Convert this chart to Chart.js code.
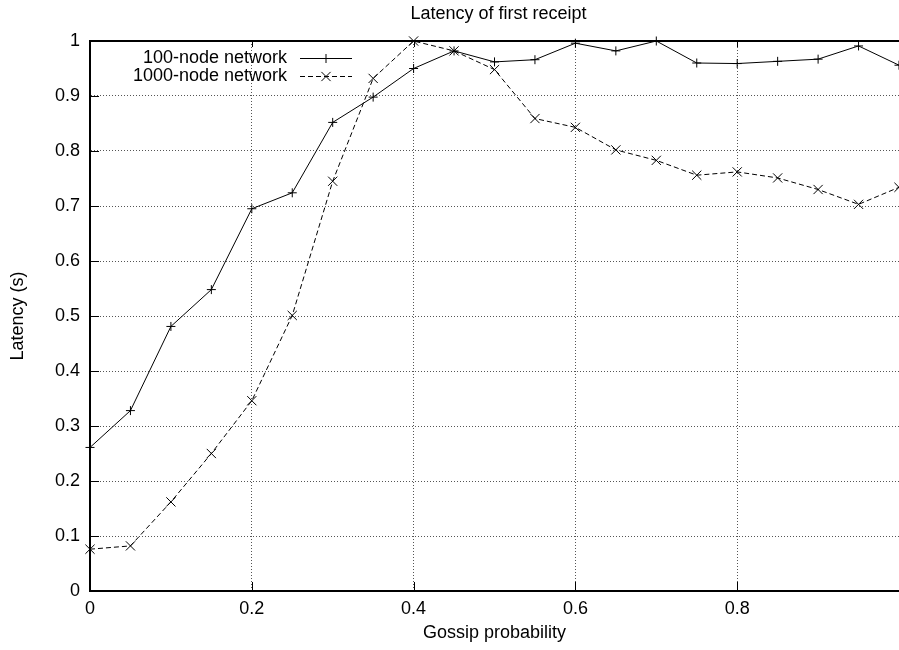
<!DOCTYPE html>
<html lang="en">
<head>
<meta charset="UTF-8">
<title>Latency of first receipt</title>
<script src="https://cdn.jsdelivr.net/npm/chart.js@4.4.1/dist/chart.umd.min.js"></script>
<style>
  html, body { margin: 0; padding: 0; background: #fff; }
  #grafico { display: block; }
</style>
</head>
<body>
<canvas id="grafico" width="899" height="650"></canvas>
<script>
// datos
const chartTitle = "Latency of first receipt";
const xTitle = "Gossip probability";
const yTitle = "Latency (s)";
const seriesNames = ["100-node network", "1000-node network"];

const gossipProb = [0, 0.05, 0.1, 0.15, 0.2, 0.25, 0.3, 0.35, 0.4, 0.45, 0.5,
                    0.55, 0.6, 0.65, 0.7, 0.75, 0.8, 0.85, 0.9, 0.95, 1.0];
const lat100 = [0.261, 0.328, 0.481, 0.548, 0.695, 0.724, 0.852, 0.898, 0.950, 0.982, 0.962,
                0.966, 0.996, 0.982, 1.000, 0.960, 0.959, 0.963, 0.967, 0.991, 0.956];
const lat1000 = [0.076, 0.082, 0.162, 0.250, 0.346, 0.501, 0.745, 0.932, 1.000, 0.982, 0.948,
                 0.859, 0.843, 0.802, 0.783, 0.756, 0.762, 0.751, 0.730, 0.703, 0.734];

const xTicks = [0, 0.2, 0.4, 0.6, 0.8];
const yTicks = [0, 0.1, 0.2, 0.3, 0.4, 0.5, 0.6, 0.7, 0.8, 0.9, 1];

const font = { family: "'Liberation Sans', Arial, sans-serif", size: 18 };
const fontCss = "18px 'Liberation Sans', Arial, sans-serif";

const toPoints = ys => gossipProb.map((x, i) => ({ x: x, y: ys[i] }));

function drawMarker(ctx, style, cx, cy) {
  ctx.beginPath();
  if (style === 'cross') {
    ctx.moveTo(cx - 4.5, cy); ctx.lineTo(cx + 4.5, cy);
    ctx.moveTo(cx, cy - 4.5); ctx.lineTo(cx, cy + 4.5);
  } else {
    ctx.moveTo(cx - 4.6, cy - 4.6); ctx.lineTo(cx + 4.6, cy + 4.6);
    ctx.moveTo(cx - 4.6, cy + 4.6); ctx.lineTo(cx + 4.6, cy - 4.6);
  }
  ctx.stroke();
}

// marco, marcas interiores, titulo y leyenda al estilo gnuplot
const decor = {
  id: 'decor',
  beforeDatasetsDraw(chart) {
    const { ctx, chartArea: a, scales: { x, y } } = chart;
    ctx.save();
    ctx.strokeStyle = '#000';
    ctx.lineWidth = 2;
    ctx.beginPath();
    ctx.moveTo(a.left, a.top);
    ctx.lineTo(a.right, a.top);
    ctx.stroke();

    ctx.lineWidth = 1;
    ctx.beginPath();
    xTicks.forEach(v => {
      const px = Math.round(x.getPixelForValue(v)) + 0.5;
      ctx.moveTo(px, a.bottom); ctx.lineTo(px, a.bottom - 9);
      ctx.moveTo(px, a.top); ctx.lineTo(px, a.top + 6);
    });
    yTicks.forEach(v => {
      const py = Math.round(y.getPixelForValue(v)) + 0.5;
      ctx.moveTo(a.left, py); ctx.lineTo(a.left + 9, py);
    });
    ctx.stroke();
    ctx.restore();
  },
  afterDraw(chart) {
    const { ctx, chartArea: a } = chart;
    ctx.save();
    ctx.fillStyle = '#000';
    ctx.strokeStyle = '#000';
    ctx.font = fontCss;
    ctx.textBaseline = 'middle';

    ctx.textAlign = 'center';
    ctx.fillText(chartTitle, (a.left + a.right) / 2 + 4, 14);

    const styles = ['cross', 'crossRot'];
    const dashes = [[], [5, 3]];
    seriesNames.forEach((name, i) => {
      const ry = a.top + 17 + i * 18;
      ctx.textAlign = 'right';
      ctx.fillText(name, a.left + 197, ry);
      ctx.lineWidth = 1;
      ctx.setLineDash(dashes[i]);
      ctx.beginPath();
      ctx.moveTo(a.left + 210, ry + 0.5);
      ctx.lineTo(a.left + 262, ry + 0.5);
      ctx.stroke();
      ctx.setLineDash([]);
      drawMarker(ctx, styles[i], a.left + 236, ry + 0.5);
    });
    ctx.restore();
  }
};

const ctx = document.getElementById('grafico').getContext('2d');
new Chart(ctx, {
  type: 'line',
  data: {
    datasets: [
      {
        label: seriesNames[0],
        data: toPoints(lat100),
        borderColor: '#000',
        borderWidth: 1,
        pointStyle: 'cross',
        pointRadius: 4.5,
        pointBorderColor: '#000',
        pointBorderWidth: 1,
        pointBackgroundColor: '#000',
        tension: 0,
        fill: false,
        clip: false
      },
      {
        label: seriesNames[1],
        data: toPoints(lat1000),
        borderColor: '#000',
        borderWidth: 1,
        borderDash: [5, 3],
        pointStyle: 'crossRot',
        pointRadius: 6.5,
        pointBorderColor: '#000',
        pointBorderWidth: 1,
        pointBackgroundColor: '#000',
        tension: 0,
        fill: false,
        clip: false
      }
    ]
  },
  options: {
    responsive: false,
    animation: false,
    layout: { autoPadding: false, padding: { top: 41, left: 0, right: 0, bottom: 0 } },
    plugins: {
      legend: { display: false },
      tooltip: { enabled: false },
      title: { display: false }
    },
    scales: {
      x: {
        type: 'linear',
        min: 0,
        max: 1,
        afterBuildTicks: s => { s.ticks = xTicks.map(v => ({ value: v })); },
        afterFit: s => { s.height = 59; },
        ticks: { font: font, color: '#000', padding: 7, maxRotation: 0, autoSkip: false,
                 callback: v => String(v) },
        grid: { color: '#555', lineWidth: 1, drawTicks: false },
        border: { display: true, color: '#000', width: 2, dash: [1, 2] },
        title: { display: true, text: xTitle, font: font, color: '#000', padding: { top: 0, bottom: 6 } }
      },
      y: {
        type: 'linear',
        min: 0,
        max: 1,
        afterBuildTicks: s => { s.ticks = yTicks.map(v => ({ value: v })); },
        afterFit: s => { s.width = 90; },
        ticks: { font: font, color: '#000', padding: 10, autoSkip: false,
                 callback: v => String(v) },
        grid: { color: '#555', lineWidth: 1, drawTicks: false },
        border: { display: true, color: '#000', width: 2, dash: [1, 2] },
        title: { display: true, text: yTitle, font: font, color: '#000', padding: { top: 7, bottom: 0 } }
      }
    }
  },
  plugins: [decor]
});
</script>
</body>
</html>
